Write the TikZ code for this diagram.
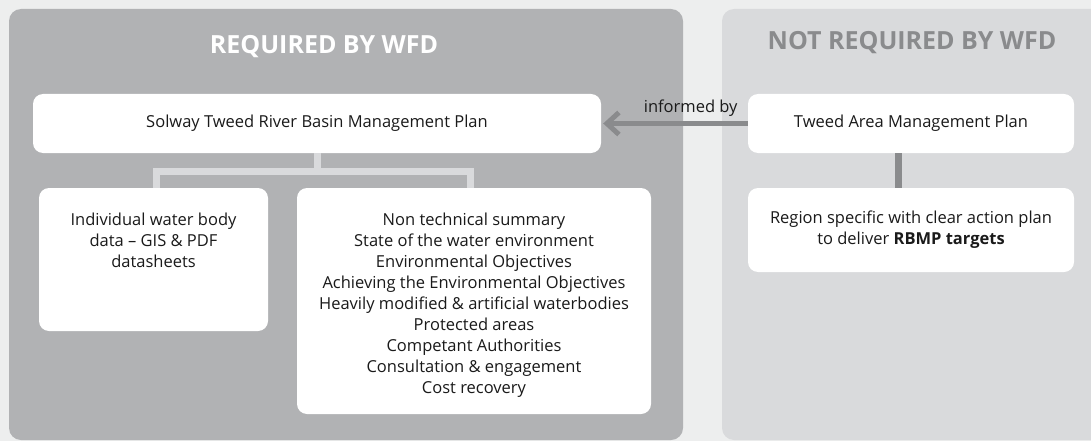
\documentclass[tikz,border=0pt]{standalone}
\usepackage{fontspec}
\setmainfont{Open Sans}
\usetikzlibrary{arrows.meta,calc}
\definecolor{bgc}{HTML}{EDEEEE}
\definecolor{leftc}{HTML}{B1B2B4}
\definecolor{rightc}{HTML}{D9DADC}
\definecolor{darkc}{HTML}{8A8B8D}
\definecolor{txtc}{HTML}{1A1A1A}
\tikzset{
  whitebox/.style={fill=white, rounded corners=10pt, inner sep=0pt, text=txtc,
    font=\fontsize{16.5}{21}\selectfont, align=center},
  bodytext/.style={inner sep=0pt, text=txtc, font=\fontsize{16.5}{21}\selectfont, align=center},
  paneltitle/.style={inner sep=0pt, font=\fontsize{25}{30}\selectfont\bfseries},
  treeconn/.style={draw=rightc, line width=7pt, line join=miter},
  darkconn/.style={draw=darkc, line width=7pt},
  informarrow/.style={draw=darkc, line width=5pt, -{Straight Barb[length=12pt,width=22pt]}}
}
\begin{document}
\begin{tikzpicture}[x=1pt,y=-1pt]
\useasboundingbox (0,0) rectangle (1091,441);
\fill[bgc] (0,0) rectangle (1091,441);
\fill[leftc, rounded corners=12pt] (9,9) rectangle (683,440);
\fill[rightc, rounded corners=12pt] (722,9) rectangle (1110,440);

\node[paneltitle, text=white, anchor=base] (tleft) at (324,54) {REQUIRED BY WFD};
\node[paneltitle, text=darkc, anchor=base] (tright) at (912,50) {NOT REQUIRED BY WFD};

\node[whitebox, minimum width=568pt, minimum height=59pt] (box1) at (317,123.5)
  {Solway Tweed River Basin Management Plan};
\node[whitebox, minimum width=326pt, minimum height=59pt] (tweed) at (911,123.5)
  {Tweed Area Management Plan};
\node[whitebox, minimum width=326pt, minimum height=84pt] (region) at (911,230)
  {Region specific with clear action plan\\to deliver \textbf{RBMP targets}};
\node[whitebox, minimum width=229pt, minimum height=143pt] (box2) at (153.5,259.5) {};
\node[whitebox, minimum width=354pt, minimum height=226pt] (box3) at (474,301) {};

\node[bodytext, anchor=north] (box2text) at ($(box2.north)+(0,25)$)
  {Individual water body\\data – GIS \& PDF\\datasheets};
\node[bodytext, anchor=north] (box3text) at ($(box3.north)+(0,25)$)
  {Non technical summary\\State of the water environment\\Environmental Objectives\\
   Achieving the Environmental Objectives\\Heavily modified \& artificial waterbodies\\
   Protected areas\\Competant Authorities\\Consultation \& engagement\\Cost recovery};

\coordinate (junc) at ($(box1.south)+(0,18.5)$);
\draw[treeconn] (box1.south) -- (junc);
\draw[treeconn] ([xshift=3pt]box2.north) |- (junc) -| ([xshift=-3.5pt]box3.north);

\draw[darkconn] ([xshift=-12.5pt]tweed.south) -- ([xshift=-12.5pt]region.north);

\draw[informarrow] (tweed.west) -- ([xshift=2pt]box1.east)
  node[pos=0.395, anchor=base, yshift=10.5pt, bodytext] (inf) {informed by};
\end{tikzpicture}
\end{document}
